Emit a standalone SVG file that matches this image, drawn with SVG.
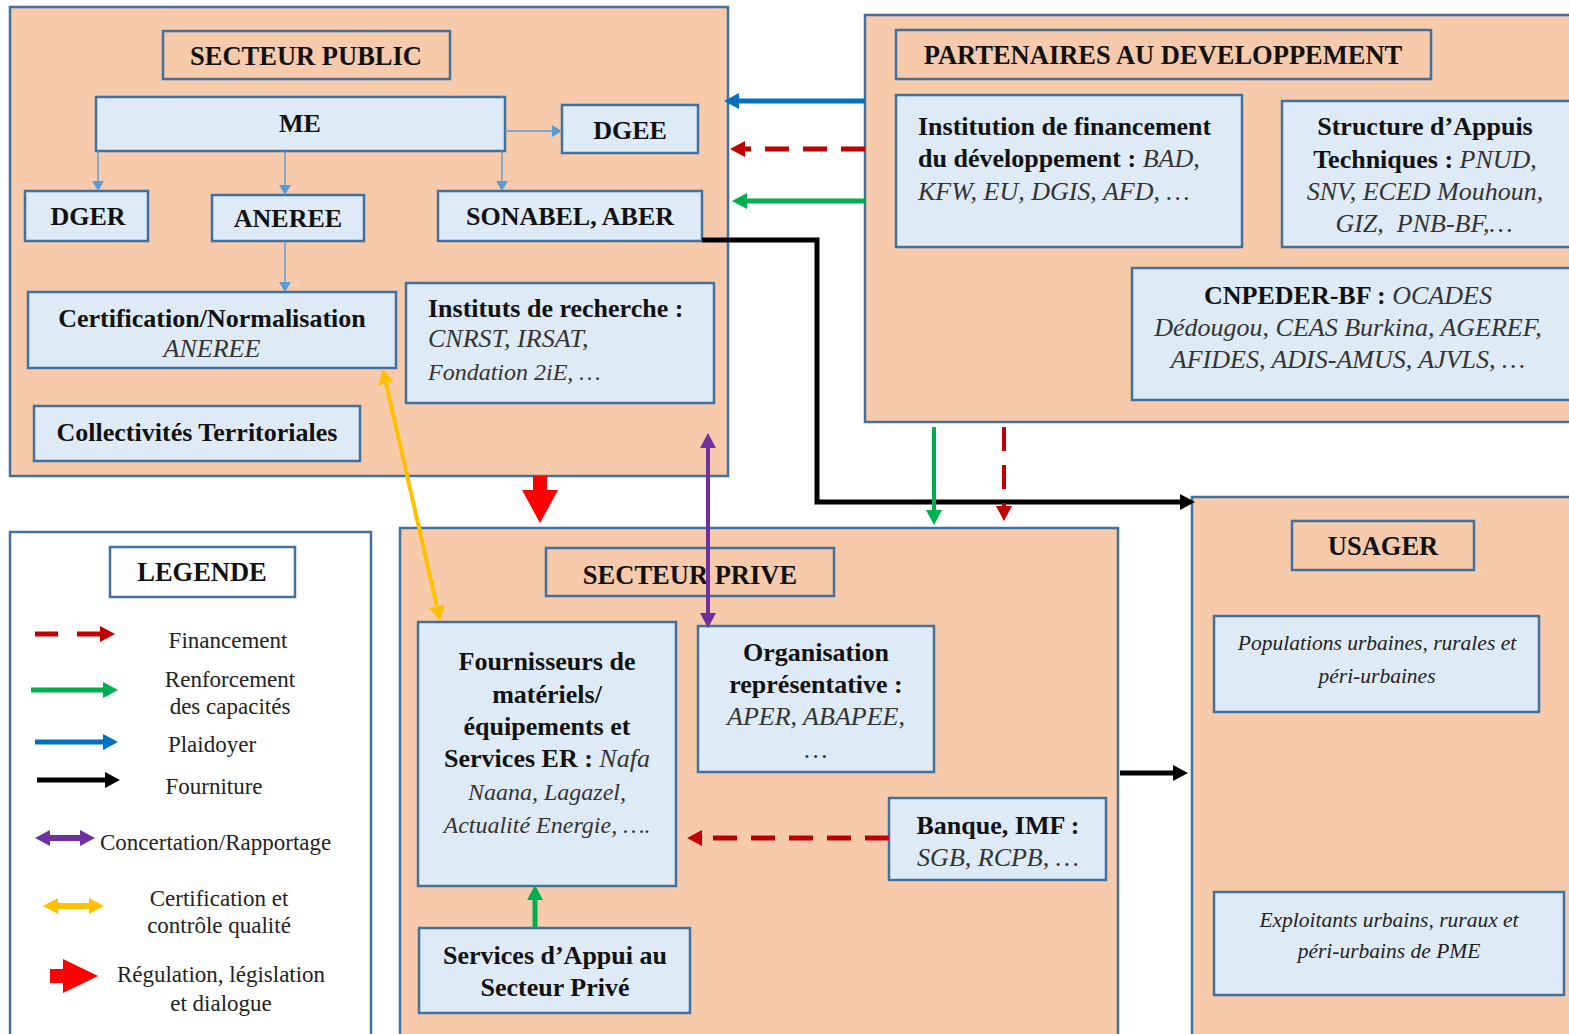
<svg xmlns="http://www.w3.org/2000/svg" width="1569" height="1034" viewBox="0 0 1569 1034">
<style>
.grp{fill:#F7CAAC;stroke:#41719C;stroke-width:2.5}
.box{fill:#DEEAF6;stroke:#41719C;stroke-width:2.5}
.ttl{fill:#F7CAAC;stroke:#41719C;stroke-width:2.5}
.leg{fill:#FFFFFF;stroke:#41719C;stroke-width:2.5}
text{font-family:"Liberation Serif","Times New Roman",serif;fill:#111}
.t{font-size:26.5px;font-weight:bold;text-anchor:middle}
.b{font-size:26px;font-weight:bold}
.i{font-size:26px;font-style:italic;font-weight:normal;fill:#333}
.is{font-size:24px}
.iu{font-size:21.5px;font-style:italic;fill:#222;text-anchor:middle}
.c{text-anchor:middle}
.lg{font-size:23px;text-anchor:middle;fill:#222}
.thin{stroke:#5B9BD5;stroke-width:1.4;fill:none}
</style>
<defs>
<marker id="hThin" markerUnits="userSpaceOnUse" markerWidth="12" markerHeight="12" refX="0" refY="6" orient="auto"><path d="M0,0 L10,6 L0,12 z" fill="#5B9BD5"/></marker>
<marker id="hBlue" markerUnits="userSpaceOnUse" markerWidth="16" markerHeight="16" refX="0" refY="8" orient="auto-start-reverse"><path d="M0,0 L15,8 L0,16 z" fill="#0070C0"/></marker>
<marker id="hRed" markerUnits="userSpaceOnUse" markerWidth="16" markerHeight="16" refX="0" refY="8" orient="auto-start-reverse"><path d="M0,0 L15,8 L0,16 z" fill="#C00000"/></marker>
<marker id="hGreen" markerUnits="userSpaceOnUse" markerWidth="16" markerHeight="16" refX="0" refY="8" orient="auto-start-reverse"><path d="M0,0 L15,8 L0,16 z" fill="#00B050"/></marker>
<marker id="hBlack" markerUnits="userSpaceOnUse" markerWidth="16" markerHeight="16" refX="0" refY="8" orient="auto-start-reverse"><path d="M0,0 L15,8 L0,16 z" fill="#000000"/></marker>
<marker id="hPurple" markerUnits="userSpaceOnUse" markerWidth="16" markerHeight="16" refX="0" refY="8" orient="auto-start-reverse"><path d="M0,0 L15,8 L0,16 z" fill="#7030A0"/></marker>
<marker id="hYellow" markerUnits="userSpaceOnUse" markerWidth="16" markerHeight="16" refX="0" refY="8" orient="auto-start-reverse"><path d="M0,0 L15,8 L0,16 z" fill="#FFC000"/></marker>
</defs>
<rect width="1569" height="1034" fill="#FFFFFF"/>

<!-- SECTEUR PUBLIC -->
<g id="secteur-public">
<rect class="grp" x="10" y="7" width="718" height="469"/>
<rect class="ttl" x="163" y="31" width="287" height="48"/>
<text class="t" x="306" y="65">SECTEUR PUBLIC</text>
</g>
<g id="me"><rect class="box" x="96" y="97" width="409" height="54"/><text class="b c" x="300" y="132">ME</text></g>
<g id="dgee"><rect class="box" x="562" y="105" width="136" height="48"/><text class="b c" x="630" y="139">DGEE</text></g>
<g id="dger"><rect class="box" x="25" y="191" width="123" height="50"/><text class="b c" x="88" y="225">DGER</text></g>
<g id="aneree"><rect class="box" x="212" y="195" width="152" height="46"/><text class="b c" x="288" y="227">ANEREE</text></g>
<g id="sonabel"><rect class="box" x="438" y="191" width="264" height="50"/><text class="b c" x="570" y="225">SONABEL, ABER</text></g>
<g id="certification"><rect class="box" x="28" y="292" width="368" height="76"/>
<text class="b c" x="212" y="327">Certification/Normalisation</text>
<text class="i c" x="212" y="357">ANEREE</text></g>
<g id="instituts"><rect class="box" x="406" y="283" width="308" height="120"/>
<text class="b" x="428" y="317">Instituts de recherche :</text>
<text class="i" x="428" y="347">CNRST, IRSAT,</text>
<text class="i is" x="428" y="380">Fondation 2iE, …</text></g>
<g id="collectivites"><rect class="box" x="34" y="406" width="326" height="55"/><text class="b c" x="197" y="441">Collectivités Territoriales</text></g>

<!-- PARTENAIRES -->
<g id="partenaires">
<rect class="grp" x="865" y="15" width="712" height="407"/>
<rect class="ttl" x="896" y="30" width="535" height="49"/>
<text class="t" x="1163" y="64">PARTENAIRES AU DEVELOPPEMENT</text>
</g>
<g id="institution-financement"><rect class="box" x="896" y="95" width="346" height="152"/>
<text class="b" x="918" y="135">Institution de financement</text>
<text class="b" x="918" y="167">du développement : <tspan class="i">BAD,</tspan></text>
<text class="i" x="918" y="200">KFW, EU, DGIS, AFD, …</text></g>
<g id="structure-appuis"><rect class="box" x="1282" y="101" width="295" height="146"/>
<text class="b c" x="1425" y="135">Structure d’Appuis</text>
<text class="b c" x="1425" y="168">Techniques : <tspan class="i">PNUD,</tspan></text>
<text class="i c" x="1425" y="200">SNV, ECED Mouhoun,</text>
<text class="i c" x="1424" y="232">GIZ,&#160; PNB-BF,…</text></g>
<g id="cnpeder"><rect class="box" x="1132" y="268" width="445" height="132"/>
<text class="b c" x="1348" y="304">CNPEDER-BF : <tspan class="i">OCADES</tspan></text>
<text class="i c" x="1348" y="336">Dédougou, CEAS Burkina, AGEREF,</text>
<text class="i c" x="1348" y="368">AFIDES, ADIS-AMUS, AJVLS, …</text></g>

<!-- LEGENDE -->
<g id="legende">
<rect class="leg" x="10" y="532" width="361" height="510"/>
<rect class="leg" x="110" y="547" width="185" height="50"/>
<text class="t" x="202" y="581">LEGENDE</text>
<line x1="35" y1="634" x2="100" y2="634" stroke="#C00000" stroke-width="5" stroke-dasharray="23 19" marker-end="url(#hRed)"/>
<text class="lg" x="228" y="648">Financement</text>
<line x1="31" y1="690" x2="103" y2="690" stroke="#00B050" stroke-width="5" marker-end="url(#hGreen)"/>
<text class="lg" x="230" y="687">Renforcement</text>
<text class="lg" x="230" y="714">des capacités</text>
<line x1="35" y1="742" x2="103" y2="742" stroke="#0070C0" stroke-width="5" marker-end="url(#hBlue)"/>
<text class="lg" x="212" y="752">Plaidoyer</text>
<line x1="37" y1="780" x2="105" y2="780" stroke="#000" stroke-width="5" marker-end="url(#hBlack)"/>
<text class="lg" x="214" y="794">Fourniture</text>
<line x1="50" y1="838" x2="80" y2="838" stroke="#7030A0" stroke-width="6" marker-start="url(#hPurple)" marker-end="url(#hPurple)"/>
<text class="lg" x="100" y="850" style="text-anchor:start">Concertation/Rapportage</text>
<line x1="58" y1="906" x2="89" y2="906" stroke="#FFC000" stroke-width="6" marker-start="url(#hYellow)" marker-end="url(#hYellow)"/>
<text class="lg" x="219" y="906">Certification et</text>
<text class="lg" x="219" y="933">contrôle qualité</text>
<polygon points="50,969 63,969 63,959 98,976 63,993 63,983 50,983" fill="#FF0000"/>
<text class="lg" x="221" y="982">Régulation, législation</text>
<text class="lg" x="221" y="1011">et dialogue</text>
</g>

<!-- SECTEUR PRIVE -->
<g id="secteur-prive">
<rect class="grp" x="400" y="528" width="718" height="514"/>
<rect class="ttl" x="546" y="548" width="288" height="48"/>
<text class="t" x="690" y="584">SECTEUR PRIVE</text>
</g>
<g id="fournisseurs"><rect class="box" x="418" y="622" width="258" height="264"/>
<text class="b c" x="547" y="670">Fournisseurs de</text>
<text class="b c" x="547" y="703">matériels/</text>
<text class="b c" x="547" y="735">équipements et</text>
<text class="b c" x="547" y="767">Services ER : <tspan class="i">Nafa</tspan></text>
<text class="i is c" x="547" y="800">Naana, Lagazel,</text>
<text class="i is c" x="547" y="833">Actualité Energie, ….</text></g>
<g id="organisation"><rect class="box" x="698" y="626" width="236" height="146"/>
<text class="b c" x="816" y="661">Organisation</text>
<text class="b c" x="816" y="693">représentative :</text>
<text class="i c" x="816" y="725">APER, ABAPEE,</text>
<text class="i c" x="816" y="758">…</text></g>
<g id="banque"><rect class="box" x="889" y="798" width="217" height="82"/>
<text class="b c" x="998" y="834">Banque, IMF :</text>
<text class="i c" x="998" y="866">SGB, RCPB, …</text></g>
<g id="services-appui"><rect class="box" x="419" y="928" width="271" height="85"/>
<text class="b c" x="555" y="964">Services d’Appui au</text>
<text class="b c" x="555" y="996">Secteur Privé</text></g>

<!-- USAGER -->
<g id="usager">
<rect class="grp" x="1192" y="497" width="385" height="545"/>
<rect class="ttl" x="1292" y="521" width="182" height="49"/>
<text class="t" x="1383" y="555">USAGER</text>
</g>
<g id="populations"><rect class="box" x="1214" y="616" width="325" height="96"/>
<text class="iu" x="1377" y="650">Populations urbaines, rurales et</text>
<text class="iu" x="1377" y="683">péri-urbaines</text></g>
<g id="exploitants"><rect class="box" x="1214" y="892" width="350" height="103"/>
<text class="iu" x="1389" y="927">Exploitants urbains, ruraux et</text>
<text class="iu" x="1389" y="958">péri-urbains de PME</text></g>

<!-- CONNECTORS -->
<g id="connectors">
<line class="thin" x1="98" y1="151" x2="98" y2="181" marker-end="url(#hThin)"/>
<line class="thin" x1="285" y1="151" x2="285" y2="185" marker-end="url(#hThin)"/>
<line class="thin" x1="502" y1="151" x2="502" y2="181" marker-end="url(#hThin)"/>
<line class="thin" x1="505" y1="131" x2="552" y2="131" marker-end="url(#hThin)"/>
<line class="thin" x1="285" y1="241" x2="285" y2="282" marker-end="url(#hThin)"/>
<line x1="865" y1="101" x2="739" y2="101" stroke="#0070C0" stroke-width="5" marker-end="url(#hBlue)"/>
<line x1="865" y1="149" x2="745" y2="149" stroke="#C00000" stroke-width="5" stroke-dasharray="24 14" marker-end="url(#hRed)"/>
<line x1="865" y1="201" x2="747" y2="201" stroke="#00B050" stroke-width="5" marker-end="url(#hGreen)"/>
<polyline points="702,240 817,240 817,502 1180,502" fill="none" stroke="#000" stroke-width="5" marker-end="url(#hBlack)"/>
<line x1="934" y1="427" x2="934" y2="510" stroke="#00B050" stroke-width="4" marker-end="url(#hGreen)"/>
<line x1="1004" y1="427" x2="1004" y2="506" stroke="#C00000" stroke-width="4" stroke-dasharray="24 14" marker-end="url(#hRed)"/>
<polygon points="533,476 547,476 547,490 558,490 540,523 522,490 533,490" fill="#FF0000"/>
<line x1="708" y1="448" x2="708" y2="613" stroke="#7030A0" stroke-width="4" marker-start="url(#hPurple)" marker-end="url(#hPurple)"/>
<line x1="386.1" y1="383.6" x2="436.9" y2="606.4" stroke="#FFC000" stroke-width="4" marker-start="url(#hYellow)" marker-end="url(#hYellow)"/>
<line x1="535" y1="928" x2="535" y2="900" stroke="#00B050" stroke-width="5" marker-end="url(#hGreen)"/>
<line x1="889" y1="838" x2="702" y2="838" stroke="#C00000" stroke-width="5" stroke-dasharray="24 14" marker-end="url(#hRed)"/>
<line x1="1120" y1="773" x2="1173" y2="773" stroke="#000" stroke-width="5" marker-end="url(#hBlack)"/>
</g>
</svg>
